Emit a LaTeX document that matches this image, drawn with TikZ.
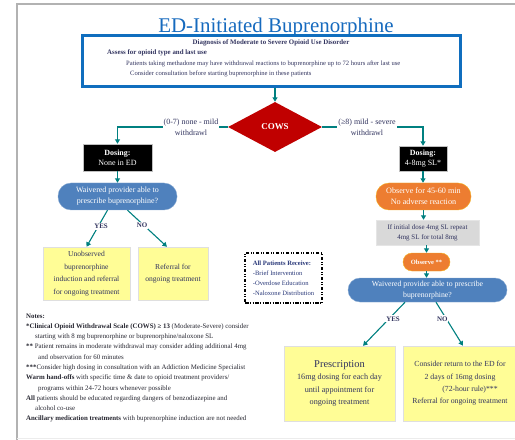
\documentclass[tikz,border=0pt]{standalone}
\usepackage{fontspec}
\setmainfont{Liberation Serif}
\usetikzlibrary{shapes.geometric,arrows.meta,calc}
\definecolor{tealc}{RGB}{0,128,128}
\definecolor{titleblue}{RGB}{22,106,190}
\definecolor{boxblue}{RGB}{16,110,190}
\definecolor{navy}{RGB}{50,52,95}
\definecolor{apblue}{RGB}{40,55,120}
\definecolor{wblue}{RGB}{79,129,189}
\definecolor{orng}{RGB}{237,125,49}
\definecolor{ylw}{RGB}{255,253,150}
\definecolor{cowsred}{RGB}{192,0,0}
\definecolor{gryb}{RGB}{217,217,217}
\definecolor{txt}{RGB}{38,38,48}
\newcommand{\fsz}[2]{\fontsize{#1}{#2}\selectfont}
\tikzset{
  conn/.style={draw=tealc, line width=1.1bp, -{Triangle[length=4.5bp,width=5bp]}},
  darkbox/.style={fill=black, draw=gray!50, text=white, align=center, inner sep=0, font=\fsz{8}{10}},
  pill/.style={rectangle, align=center, text=white, inner sep=0},
  ybox/.style={fill=ylw, draw=gray!25, text=navy, align=center, inner sep=0, font=\fsz{7.6}{12.6}},
  lbl/.style={fill=white, text=navy, align=center, inner sep=1bp, font=\fsz{8}{11}},
  yn/.style={fill=white, text=navy, font=\bfseries\fsz{7}{8}, inner sep=1bp},
  plain/.style={inner sep=0, text=navy}
}
\begin{document}
\begin{tikzpicture}[x=1bp,y=-1bp]
\useasboundingbox (0,0) rectangle (515,440);
% frame
\draw[gray!60, line width=1.5bp] (515,4) -- (17,4) -- (17,440);
\draw[gray!15, line width=0.8bp] (17,438) -- (515,438);
% title
\node[anchor=base, text=titleblue, font=\fsz{21}{24}, inner sep=0] (title) at (276,33) {ED-Initiated Buprenorphine};
% diagnosis box
\node[draw=boxblue, line width=3bp, minimum width=378bp, minimum height=51bp, inner sep=0] (diag) at (271.5,61) {};
\node[plain, font=\bfseries\fsz{6.9}{8}] (diagT) at (271,43) {Diagnosis of Moderate to Severe Opioid Use Disorder};
\node[plain, anchor=west, font=\bfseries\fsz{6.9}{8}] (assess) at (107,53) {Assess for opioid type and last use};
\node[plain, anchor=west, font=\fsz{6.6}{8}] (pat) at (126,64) {Patients taking methadone may have withdrawal reactions to buprenorphine up to 72 hours after last use};
\node[plain, anchor=west, font=\fsz{6.6}{8}] (cons) at (130,74) {Consider consultation before starting buprenorphine in these patients};
% COWS
\node[diamond, fill=cowsred, minimum width=94bp, minimum height=50bp, inner sep=0, text=white, font=\bfseries\fsz{9}{10}] (cows) at (275,127) {COWS};
\draw[conn] (cows.north |- diag.south) -- (cows.north);
% dosing boxes
\node[darkbox, minimum width=69bp, minimum height=27bp] (dose1) at (117.5,157.5) {\textbf{Dosing:}\\None in ED};
\node[darkbox, minimum width=48bp, minimum height=25bp] (dose2) at (423,158.5) {\textbf{Dosing:}\\4-8mg SL*};
\draw[conn] (cows.west) -| (dose1.north);
\draw[conn] (cows.east) -| (dose2.north);
\node[lbl] (lab1) at (191,127) {(0-7) none - mild\\withdrawl};
\node[lbl] (lab2) at (367,127) {(≥8) mild - severe\\withdrawl};
% left branch
\node[pill, fill=wblue, draw=wblue!70!white, rounded corners=13bp, minimum width=119bp, minimum height=27bp, font=\fsz{8}{11}] (waiver1) at (117.5,196.5) {Waivered provider able to\\prescribe buprenorphine?};
\draw[conn] (dose1.south) -- (waiver1.north);
\node[ybox, minimum width=87bp, minimum height=53bp] (unobs) at (86.5,273.5) {Unobserved\\buprenorphine\\induction and referral\\for ongoing treatment};
\node[ybox, minimum width=70bp, minimum height=53bp] (referral) at (173,273.5) {Referral for\\ongoing treatment};
\draw[conn] ($(waiver1.south)+(-10,0)$) -- node[yn, pos=0.45, xshift=3bp] (yes1) {YES} (unobs.north);
\draw[conn] ($(waiver1.south)+(10,0)$) -- node[yn, pos=0.42, xshift=-2bp] (no1) {NO} ($(referral.north)+(-6,0)$);
% right branch
\node[pill, fill=orng, draw=orng!60!yellow, rounded corners=13bp, minimum width=95bp, minimum height=27bp, font=\fsz{8.2}{11}] (obs1) at (423.5,196.5) {Observe for 45-60 min\\No adverse reaction};
\draw[conn] (dose2.south) -- (dose2.south |- obs1.north);
\node[fill=gryb, draw=gray!20, inner sep=0, minimum width=103bp, minimum height=25bp, align=center, text=navy, font=\fsz{7}{10}] (grey) at (427.5,232.5) {If initial dose 4mg SL repeat\\4mg SL for total 8mg};
\draw[conn] (obs1.south) -- (obs1.south |- grey.north);
\node[pill, fill=orng, draw=orng!60!yellow, rounded corners=9bp, minimum width=47bp, minimum height=18bp, font=\bfseries\fsz{6.5}{8}] (obs2) at (426.5,262) {Observe **};
\draw[conn] (grey.south -| obs2.north) -- (obs2.north);
\node[pill, fill=wblue, draw=wblue!70!white, rounded corners=12bp, minimum width=159bp, minimum height=24bp, font=\fsz{7.8}{10.5}] (waiver2) at (427.5,290) {Waivered provider able to prescribe\\buprenorphine?};
\draw[conn] (obs2.south) -- (obs2.south |- waiver2.north);
\node[ybox, minimum width=111bp, minimum height=75bp, font=\fsz{8.2}{12.4}] (presc) at (339.5,383.5) {{\fsz{10.5}{13}Prescription}\\16mg dosing for each day\\until appointment for\\ongoing treatment};
\node[ybox, minimum width=128bp, minimum height=75bp] (consider) at (467,383.5) {};
\node[plain, align=center, font=\fsz{7.8}{12.4}] (considerT) at (460,383.5) {Consider return to the ED for\\2 days of 16mg dosing\\\hspace*{20bp}(72-hour rule)***\\Referral for ongoing treatment};
\draw[conn] ($(waiver2.south)+(-22.5,0)$) -- node[yn, pos=0.38, xshift=4bp] (yes2) {YES} ($(presc.north)+(23.5,0)$);
\draw[conn] ($(waiver2.south)+(8.5,0)$) -- node[yn, pos=0.38, xshift=-4bp] (no2) {NO} ($(consider.north)+(-4,0)$);
% all patients
\node[draw=black, line width=1.3bp, dash pattern=on 3.5bp off 1.5bp on 1bp off 1.5bp on 1bp off 1.5bp, minimum width=77bp, minimum height=50bp, inner sep=0, align=left, text=apblue, font=\fsz{6.6}{10}] (allp) at (283.5,278) {\textbf{All Patients Receive:}\\-Brief Intervention\\-Overdose Education\\-Naloxone Distribution};
% notes
\node[anchor=north west, inner sep=0, align=left, text=txt, font=\fsz{6.9}{10.3}] (notes) at (26,313.5) {\textbf{Notes:}\\
\textbf{*Clinical Opioid Withdrawal Scale (COWS) ≥ 13} (Moderate-Severe) consider\\
\hspace*{9bp}starting with 8 mg buprenorphine or buprenorphine/naloxone SL\\
\textbf{**} Patient remains in moderate withdrawal may consider adding additional 4mg\\
\hspace*{12bp}and observation for 60 minutes\\
\textbf{***}Consider high dosing in consultation with an Addiction Medicine Specialist\\
\textbf{Warm hand-offs} with specific time \& date to opioid treatment providers/\\
\hspace*{12bp}programs within 24-72 hours whenever possible\\
\textbf{All} patients should be educated regarding dangers of benzodiazepine and\\
\hspace*{9bp}alcohol co-use\\
\textbf{Ancillary medication treatments} with buprenorphine induction are not needed};
\end{tikzpicture}
\end{document}
